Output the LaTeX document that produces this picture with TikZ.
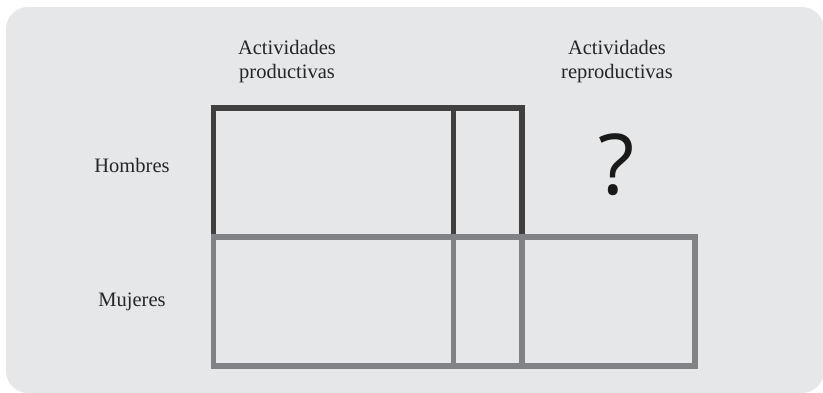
\documentclass[tikz,border=0pt]{standalone}
\usepackage{fontspec}
\setmainfont{Liberation Serif}
\newfontfamily\qfont{Open Sans}
\definecolor{bgc}{HTML}{E6E7E8}
\definecolor{darkc}{HTML}{404041}
\definecolor{greyc}{HTML}{808285}
\begin{document}
\begin{tikzpicture}[x=1pt,y=-1pt,
  lbl/.style={font=\fontsize{20.5}{24}\selectfont, text=black!85, inner sep=0pt, align=center},
  darkline/.style={draw=darkc, line width=5.5pt, line join=miter},
  greyline/.style={draw=greyc, line width=5.5pt, line join=miter}]
\useasboundingbox (0,0) rectangle (823,392);
\begin{scope}
\clip (0,0) rectangle (823,392);
\fill[bgc, rounded corners=22pt] (6,7) rectangle (824,393);
\end{scope}
% top (Hombres) blocks
\draw[darkline] (213.5,108) rectangle (522,237);
\draw[darkline] (453.5,108) -- (453.5,237);
% bottom (Mujeres) blocks
\draw[greyline] (213.5,237) rectangle (695,366);
\draw[greyline] (453.5,237) -- (453.5,366);
\draw[greyline] (522,237) -- (522,366);
% labels
\node[lbl, anchor=base] (prod) at (287,78.5) {Actividades\\productivas};
\node[lbl, anchor=base] (repr) at (617,78.5) {Actividades\\reproductivas};
\node[lbl, anchor=base] (hom) at (132,172) {Hombres};
\node[lbl, anchor=base] (muj) at (132,306.5) {Mujeres};
\node[inner sep=0pt, anchor=base, text=black!90, font=\qfont\fontsize{84}{90}\selectfont] (q) at (617,194) {?};
\end{tikzpicture}
\end{document}
